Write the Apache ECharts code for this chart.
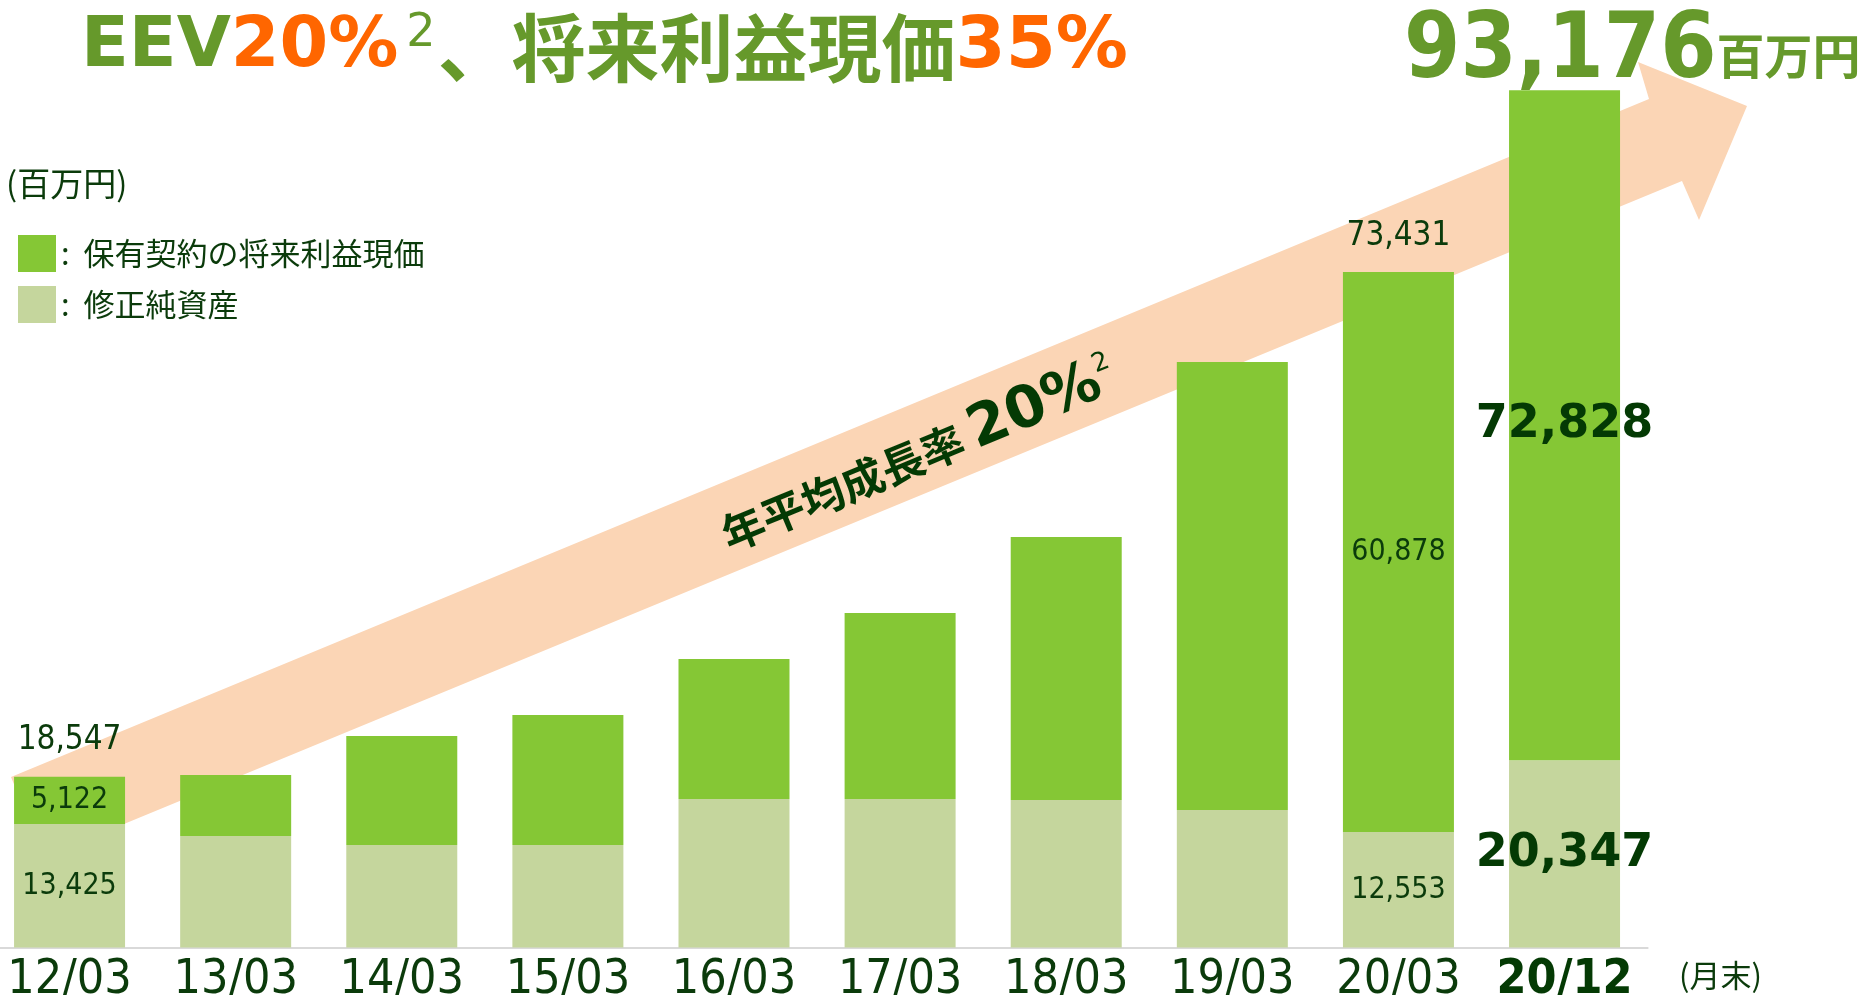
<!DOCTYPE html>
<html>
<head>
<meta charset="utf-8">
<title>EEV</title>
<script src="https://cdn.jsdelivr.net/npm/echarts@6/dist/echarts.min.js"></script>
<style>
html, body { margin: 0; padding: 0; background: #fff; }
#chart { width: 1870px; height: 995px; }
</style>
</head>
<body>
<div id="chart"></div>
<script>
// 決算期 (月末)
var categories = ["12/03", "13/03", "14/03", "15/03", "16/03", "17/03", "18/03", "19/03", "20/03", "20/12"];
// 修正純資産 (百万円)
var netAssets = [13425, 12120, 11140, 11140, 16140, 16140, 16030, 14950, 12553, 20347];
// 保有契約の将来利益現価 (百万円)
var vifValues = [5122, 6630, 11850, 14130, 15220, 20220, 28590, 48690, 60878, 72828];
// EEV 合計
var totals = [18547, 18750, 22990, 25270, 31360, 36360, 44620, 63640, 73431, 93176];
// 数値を表示する期
var shownIdx = [0, 8, 9];

var numFont = "'DejaVu Sans Condensed', 'Liberation Sans Narrow', 'DejaVu Sans', sans-serif";
var jpFont = "'Noto Sans CJK JP', sans-serif";
var dark = "#0b3b0b";
var green = "#66992b";

function fmt(v) {
    return String(v).replace(/\B(?=(\d{3})+(?!\d))/g, ",");
}

function insideLabel(i) {
    if (i === 9) {
        return { show: true, position: "inside", fontSize: 46, fontWeight: "bold", color: "#043a04", fontFamily: "'DejaVu Sans', sans-serif" };
    }
    if (shownIdx.indexOf(i) >= 0) {
        return { show: true, position: "inside", fontSize: 30, color: dark, fontFamily: numFont };
    }
    return { show: false };
}

function totalLabel(i) {
    if (i === 9) {
        return {
            show: true, position: [-160, -36], align: "left", verticalAlign: "middle",
            formatter: function (p) { return "{a|" + fmt(p.value) + "}{b|百万円}"; },
            rich: {
                a: { fontSize: 90, fontWeight: "bold", color: green, fontFamily: numFont, lineHeight: 90 },
                b: { fontSize: 48, fontWeight: "bold", color: green, fontFamily: jpFont, lineHeight: 50, padding: [4, 0, 0, 0] }
            }
        };
    }
    if (shownIdx.indexOf(i) >= 0) {
        return { show: true, position: "top", distance: 19, fontSize: 33, color: dark, fontFamily: numFont };
    }
    return { show: false };
}

var chart = echarts.init(document.getElementById("chart"));

chart.setOption({
    animation: false,
    backgroundColor: "#fff",
    grid: { left: -13.5, right: 222.4, top: 27.5, bottom: 47.5, outerBoundsMode: "none", containLabel: false },
    legend: {
        orient: "vertical", left: 18, top: 235, padding: 0,
        itemWidth: 38, itemHeight: 37, itemGap: 14, icon: "rect",
        selectedMode: false,
        data: ["保有契約の将来利益現価", "修正純資産"],
        formatter: function (n) { return ":  " + n; },
        textStyle: { fontSize: 31, color: dark, fontFamily: jpFont }
    },
    xAxis: {
        type: "category",
        data: categories,
        axisTick: { show: false },
        axisLine: { lineStyle: { color: "#d9d9d9", width: 2 } },
        axisLabel: {
            interval: 0, margin: 9, fontSize: 48, color: dark, fontFamily: numFont,
            formatter: function (v, i) { return i === 9 ? "{b|" + v + "}" : v; },
            rich: { b: { fontSize: 48, fontWeight: "bold", color: "#043a04", fontFamily: numFont } }
        }
    },
    yAxis: { type: "value", min: 0, max: 100000, show: false, splitLine: { show: false } },
    series: [
        {
            name: "修正純資産", type: "bar", stack: "eev", barWidth: 111,
            itemStyle: { color: "#c5d69d" },
            label: { formatter: function (p) { return fmt(p.value); } },
            data: netAssets.map(function (v, i) { return { value: v, label: insideLabel(i) }; })
        },
        {
            name: "保有契約の将来利益現価", type: "bar", stack: "eev", barWidth: 111,
            itemStyle: { color: "#85c735" },
            label: { formatter: function (p) { return fmt(p.value); } },
            data: vifValues.map(function (v, i) { return { value: v, label: insideLabel(i) }; })
        },
        {
            name: "合計", type: "scatter", symbolSize: 1, silent: true, z: 5,
            itemStyle: { color: "rgba(0,0,0,0)", opacity: 1 },
            label: { formatter: function (p) { return fmt(p.value); } },
            data: totals.map(function (v, i) { return { value: v, label: totalLabel(i) }; })
        }
    ],
    graphic: [
        {
            type: "polygon", z: 0, silent: true,
            shape: { points: [[11, 777], [1649, 99], [1638, 62], [1747, 106], [1699, 220], [1682, 181], [44, 857]] },
            style: { fill: "#fbd5b5" }
        },
        {
            type: "text", x: 81, y: 48, z: 10,
            style: {
                text: "{g|EEV}{o|20%}{s|2}{j|、将来利益現価}{o2|35%}",
                verticalAlign: "middle", align: "left",
                rich: {
                    g: { fontSize: 70, fontWeight: "bold", fill: green, fontFamily: "'DejaVu Sans', sans-serif" },
                    o: { fontSize: 70, fontWeight: "bold", fill: "#ff6600", fontFamily: "'DejaVu Sans', sans-serif" },
                    s: { fontSize: 46, fill: green, fontFamily: "'DejaVu Sans', sans-serif", verticalAlign: "top", padding: [0, 2, 0, 8] },
                    j: { fontSize: 74, fontWeight: "bold", fill: green, fontFamily: jpFont },
                    o2: { fontSize: 72, fontWeight: "bold", fill: "#ff6600", fontFamily: "'DejaVu Sans', sans-serif" }
                }
            }
        },
        {
            type: "text", x: 919, y: 456, z: 10, rotation: 22.5 * Math.PI / 180,
            style: {
                text: "{c|年平均成長率 }{n|20%}{s|2}",
                align: "center", verticalAlign: "middle",
                rich: {
                    c: { fontSize: 43, fontWeight: "bold", fill: "#043a04", fontFamily: jpFont },
                    n: { fontSize: 58, fontWeight: "bold", fill: "#043a04", fontFamily: "'DejaVu Sans', sans-serif" },
                    s: { fontSize: 26, fill: "#043a04", fontFamily: "'DejaVu Sans', sans-serif", verticalAlign: "top" }
                }
            }
        },
        {
            type: "text", x: 6, y: 183, z: 10,
            style: { text: "(百万円)", fontSize: 33, fill: dark, fontFamily: jpFont, verticalAlign: "middle" }
        },
        {
            type: "text", x: 1679, y: 975, z: 10,
            style: { text: "(月末)", fontSize: 31, fill: dark, fontFamily: jpFont, verticalAlign: "middle" }
        }
    ]
});
</script>
</body>
</html>
